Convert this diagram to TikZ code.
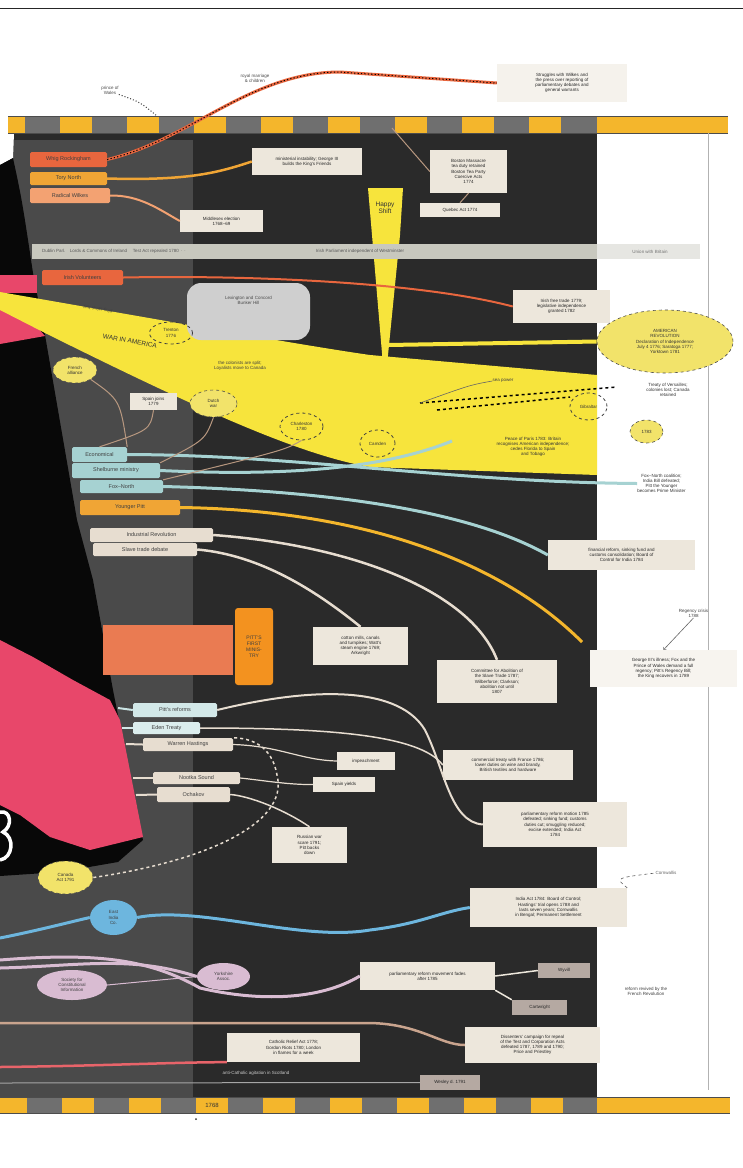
\documentclass[tikz,border=0pt]{standalone}
\usepackage{fontspec}
\setsansfont{Liberation Sans}
\usetikzlibrary{shapes.geometric}
\definecolor{darkbg}{HTML}{2A2A2A}
\definecolor{leftbg}{HTML}{4A4A4A}
\definecolor{nblack}{HTML}{080808}
\definecolor{pinkc}{HTML}{E8476A}
\definecolor{wedge}{HTML}{F7E43C}
\definecolor{bandyel}{HTML}{F4B62C}
\definecolor{bandgray}{HTML}{6F6F6F}
\definecolor{tagred}{HTML}{E8663E}
\definecolor{tagyel}{HTML}{F0A535}
\definecolor{tagorl}{HTML}{F3A272}
\definecolor{boxc}{HTML}{EDE7DC}
\definecolor{grayband}{HTML}{C8C8BE}
\definecolor{lblue}{HTML}{A6D2D2}
\definecolor{blueline}{HTML}{6DB6DE}
\definecolor{lav}{HTML}{D9BCD2}
\definecolor{salmon}{HTML}{EA7B52}
\definecolor{orbox}{HTML}{F3921F}
\definecolor{tanl}{HTML}{C9A48E}
\definecolor{redline}{HTML}{E8646A}
\definecolor{beige}{HTML}{E7DDD0}
\definecolor{brownl}{HTML}{B89880}
\definecolor{ellyel}{HTML}{F2E36A}
\definecolor{gbox}{HTML}{B5A9A2}
\definecolor{rbox}{HTML}{CFCFCF}
\begin{document}
\begin{tikzpicture}[x=1pt,y=-1pt,
  font=\sffamily\fontsize{4.5}{5.2}\selectfont,
  box/.style={fill=boxc, inner sep=1.5pt, align=center, text=black!85},
  tagbox/.style={inner sep=1pt, align=center, text=black!75, rounded corners=1.5pt, font=\sffamily\fontsize{5.5}{6}\selectfont},
  plain/.style={inner sep=0pt, align=center, text=black!70},
  dcirc/.style={ellipse, draw=black!75, dashed, line width=0.8pt, inner sep=0pt, align=center, text=black!80},
  yell/.style={ellipse, fill=ellyel, draw=black!70, dashed, line width=0.6pt, inner sep=0pt, align=center, text=black!80},
  leader/.style={brownl, line width=1pt}
]
\useasboundingbox (0,0) rectangle (743,1168);
\fill[white] (0,0) rectangle (743,1168);
\draw[line width=0.8pt, black!85] (0,8) -- (743,8);

% ---------- backgrounds
\fill[darkbg] (0,133) rectangle (597,1097);
\fill[leftbg] (0,140) rectangle (193,1097);
\fill[white] (0,133) -- (14,133) -- (13,158) -- (0,165) -- cycle;
\fill[nblack] (0,165) -- (13,158) .. controls (22,200) .. (33,273) -- (45,335) -- (77,520) -- (93,580) -- (113,690) -- (143,840) -- (118,862) -- (60,872) -- (0,876) -- cycle;
\fill[pinkc] (0,640) -- (33,657) -- (73,680) -- (110,700) -- (120,720) -- (143,837) -- (90,850) -- (50,837) -- (20,815) -- (0,805) -- cycle;
% partial white glyph at the left edge
\draw[white, line width=3.5pt] (0,812) .. controls (11,810) and (13,826) .. (3,832) .. controls (15,837) and (13,858) .. (0,860);
\fill[pinkc] (0,275) rectangle (37,293);
\fill[pinkc] (0,305) -- (22,310) -- (45,336) -- (0,344) -- cycle;

% ---------- yellow wedge and spike
\fill[wedge] (0,292) .. controls (150,318) and (300,345) .. (370,355) -- (597,375) -- (597,475) -- (370,467) .. controls (300,455) and (200,410) .. (45,333) -- (0,310) -- cycle;
\fill[wedge] (368,188) -- (403,188) -- (400,235) -- (387,365) -- (383,365) -- (372,235) -- cycle;
\node[plain, text=black!80, font=\sffamily\fontsize{6.5}{7}\selectfont] (spk) at (385,208) {Happy\\Shift};

% ---------- bands
\fill[bandgray] (8,116) rectangle (597,133);
\fill[bandyel] (8,116) rectangle (25,133);
\foreach \x in {60,127,...,529} { \fill[bandyel] (\x,116) rectangle (\x+32,133); }
\fill[bandyel] (597,116) rectangle (728,133);
\draw[black!70, line width=0.6pt] (8,116) -- (728,116) (8,133) -- (728,133);
\fill[bandgray] (0,1097) rectangle (597,1113);
\fill[bandyel] (0,1097) rectangle (27,1113);
\foreach \x in {62,129,...,531} { \fill[bandyel] (\x,1097) rectangle (\x+32,1113); }
\fill[bandyel] (597,1097) rectangle (730,1113);
\draw[black!70, line width=0.6pt] (0,1097) -- (730,1097) (0,1113) -- (730,1113);
\node[plain, text=black!80, font=\sffamily\fontsize{6}{6}\selectfont] (yr) at (212,1105) {1768};
\fill[black!80] (196,1119) circle (1pt);

% right panel rule
\draw[gray!60, line width=1pt] (708,133) -- (708,1090);

% ---------- grey band
\fill[grayband] (32,244) rectangle (597,259);
\fill[grayband!45] (597,244) rectangle (700,259);
\node[plain, anchor=west, text=black!65] (gb1) at (42,251.5) {Dublin Parl.\quad Lords \& Commons of Ireland \quad Test Act repealed 1780 $\cdot$ $\cdot$};
\node[plain, text=black!65] (gb2) at (360,251.5) {Irish Parliament independent of Westminster};
\node[plain, text=black!55] (gb3) at (650,251.5) {Union with Britain};

% ---------- top region
\node[plain] (tl1) at (110,90) {prince of\\Wales};
\node[plain] (tl2) at (255,78) {royal marriage\\\& children};
\node[box, fill=boxc!55, minimum width=130, minimum height=38] (tb) at (562,83) {Struggles with Wilkes and\\the press over reporting of\\parliamentary debates and\\general warrants};
\coordinate (bandpt) at (157,116);
\draw[black!75, dotted, line width=1pt] (tl1.south east) .. controls (140,102) .. (bandpt);

\node[tagbox, fill=tagred, minimum width=77, minimum height=15] (t1) at (68.5,159.5) {Whig Rockingham};
\node[tagbox, fill=tagyel, minimum width=77, minimum height=13] (t2) at (68.5,178.5) {Tory North};
\node[tagbox, fill=tagorl, minimum width=80, minimum height=15] (t3) at (70,195.5) {Radical Wilkes};

\draw[tagred, line width=3pt] (t1.east) .. controls (190,140) and (250,72) .. (340,72) -- (tb.west);
\draw[black, dash pattern=on 1.2pt off 2.2pt, line width=1pt] (t1.east) .. controls (190,140) and (250,72) .. (340,72) -- (tb.west);

\node[box, minimum width=110, minimum height=27] (b1) at (307,161.5) {ministerial instability; George III\\builds the King's Friends};
\node[box, minimum width=83, minimum height=22] (b2) at (221.5,221) {Middlesex election\\1768--69};
\draw[tagyel, line width=2.5pt] (t2.east) .. controls (190,181) and (220,172) .. (b1.west);
\draw[tagorl, line width=2pt] (t3.east) .. controls (140,195) and (160,210) .. (b2.west);

\node[box, minimum width=77, minimum height=43] (b3) at (468.5,171.5) {Boston Massacre\\tea duty retained\\Boston Tea Party\\Coercive Acts\\1774};
\node[box, minimum width=80, minimum height=14] (b4) at (460,210) {Quebec Act 1774};
\coordinate (c1) at (392,128);
\draw[leader] (c1) -- (b3.west);
\draw[leader] (b3.south) -- (b4.north);

% ---------- orange tag to box
\node[tagbox, fill=tagred, minimum width=81, minimum height=15] (t4) at (82.5,277.5) {Irish Volunteers};
\node[box, minimum width=97, minimum height=33] (b5) at (561.5,306.5) {Irish free trade 1779;\\legislative independence\\granted 1782};
\draw[tagred, line width=2pt] (t4.east) .. controls (250,275) and (420,282) .. (b5.west);

% ---------- big ellipse and spike line
\node[yell, minimum width=136, minimum height=63] (e1) at (665,341.5) {AMERICAN\\REVOLUTION\\Declaration of Independence\\July 4 1776; Saratoga 1777;\\Yorktown 1781};
\draw[wedge, line width=4pt] (388,345) -- (e1.west);

% ---------- wedge contents
\node[box, fill=rbox, rounded corners=14pt, minimum width=123, minimum height=57, text=black!70, text depth=22pt] (gr) at (248.5,311.5) {Lexington and Concord\\Bunker Hill};
\node[plain, text=black!75, rotate=-9] (wt1) at (98,309) {first shots fired};
\node[plain, text=black!80, rotate=-10, font=\sffamily\fontsize{6.5}{7}\selectfont] (wt2) at (130,341) {WAR IN AMERICA};
\node[plain, text=black!75] (wt3) at (240,366) {the colonists are split;\\Loyalists move to Canada};
\node[dcirc, minimum width=43, minimum height=22] (c2) at (171,333) {Trenton\\1776};
\node[yell, minimum width=44, minimum height=26] (ye1) at (75,370) {French\\alliance};
\node[box, minimum width=47, minimum height=17] (wbx) at (153.5,401.5) {Spain joins\\1779};
\node[yell, minimum width=47, minimum height=27] (ye2) at (213.5,403.5) {Dutch\\war};
\node[dcirc, minimum width=43, minimum height=27] (c3) at (301.5,426.5) {Charleston\\1780};
\node[dcirc, minimum width=35, minimum height=27] (c4) at (377.5,443.5) {Camden};
\node[plain, text=black!75] (lbl) at (503,381) {sea power};
\node[dcirc, minimum width=37, minimum height=27] (c5) at (588.5,406.5) {Gibraltar};
\node[plain, text=black!80] (wtx) at (533,447) {Peace of Paris 1783: Britain\\recognises American independence;\\cedes Florida to Spain\\and Tobago};
\coordinate (dl1a) at (420,403); \coordinate (dl1b) at (617,387);
\coordinate (dl2a) at (437,410); \coordinate (dl2b) at (570,397);
\draw[black, dashed, line width=1.5pt] (dl1a) -- (dl1b);
\draw[black, dashed, line width=1.5pt] (dl2a) -- (dl2b);
\draw[black!60, line width=0.6pt] (lbl.west) .. controls (470,385) .. (dl1a);

% right panel texts
\node[plain, text=black!80] (rt1) at (668,390) {Treaty of Versailles;\\colonies lost; Canada\\retained};
\node[yell, minimum width=33, minimum height=23] (e2) at (646.5,431.5) {1783};
\node[plain, text=black!80] (rt2) at (661.5,483.5) {Fox--North coalition;\\India Bill defeated;\\Pitt the Younger\\becomes Prime Minister};

% ---------- light blue tags
\node[tagbox, fill=lblue, minimum width=55, minimum height=15] (L1) at (99.5,454.5) {Economical};
\node[tagbox, fill=lblue, minimum width=88, minimum height=15] (L2) at (116,470.5) {Shelburne ministry};
\node[tagbox, fill=lblue, minimum width=83, minimum height=13] (L3) at (121.5,486.5) {Fox--North};
\node[tagbox, fill=tagyel, minimum width=100, minimum height=15] (O1) at (130,507.5) {Younger Pitt};
\coordinate (cw) at (452,441);
\coordinate (co) at (582,642);
\node[box, minimum width=147, minimum height=30] (b6) at (621.5,555) {financial reform, sinking fund and\\customs consolidation; Board of\\Control for India 1784};
\draw[lblue, line width=3pt] (L1.east) .. controls (300,455) and (450,482) .. (rt2.west);
\draw[lblue, line width=3pt] (L2.east) .. controls (280,476) and (380,470) .. (cw);
\draw[lblue, line width=3pt] (L3.east) .. controls (300,490) and (460,505) .. (b6.west);
\draw[bandyel, line width=3pt] (O1.east) .. controls (360,510) and (500,560) .. (co);
\draw[leader] (ye1.south east) .. controls (120,400) .. (L1.north east);
\draw[leader] (wbx.south) .. controls (150,430) .. (L1.north);
\draw[leader] (ye2.south) .. controls (205,440) .. (L2.north east);
\draw[leader] (c3.south) .. controls (285,450) .. (L3.north east);

% ---------- beige tags
\node[tagbox, fill=beige, minimum width=123, minimum height=14] (W1) at (151.5,535) {Industrial Revolution};
\node[tagbox, fill=beige, minimum width=104, minimum height=13] (W2) at (145,549.5) {Slave trade debate};
\node[box, minimum width=95, minimum height=38] (b7) at (360.5,646) {cotton mills, canals\\and turnpikes; Watt's\\steam engine 1769;\\Arkwright};
\node[box, minimum width=120, minimum height=43] (b8) at (497,681.5) {Committee for Abolition of\\the Slave Trade 1787;\\Wilberforce; Clarkson;\\abolition not until\\1807};
\draw[beige, line width=2.5pt] (W1.east) .. controls (350,545) and (470,590) .. (b8.north);
\draw[beige, line width=2.5pt] (W2.east) .. controls (260,555) and (315,590) .. (b7.north);

\node[plain, text=black!75] (rlabel) at (693.5,613.5) {Regency crisis\\1788};
\node[box, fill=boxc!45, minimum width=147, minimum height=37] (rb) at (663.5,668.5) {George III's illness; Fox and the\\Prince of Wales demand a full\\regency; Pitt's Regency Bill;\\the King recovers in 1789};
\draw[black!60, ->, line width=0.6pt] (rlabel.south) -- (rb.north);

% ---------- salmon / orange block
\fill[salmon] (103,625) rectangle (233,675);
\node[tagbox, fill=orbox, rounded corners=3pt, minimum width=38, minimum height=77, font=\sffamily\fontsize{5}{6}\selectfont] (ob) at (254,646.5) {PITT'S\\FIRST\\MINIS-\\TRY};

% ---------- lower tags
\node[tagbox, fill=lblue!50!white, minimum width=84, minimum height=14] (P1) at (175,710) {Pitt's reforms};
\node[tagbox, fill=lblue!40!white, minimum width=67, minimum height=12] (P2) at (166.5,728) {Eden Treaty};
\node[tagbox, fill=beige, minimum width=90, minimum height=13] (P3) at (188,744.5) {Warren Hastings};
\node[tagbox, fill=beige, minimum width=87, minimum height=12] (P4) at (196.5,778) {Nootka Sound};
\node[tagbox, fill=beige, minimum width=73, minimum height=15] (P5) at (193.5,794.5) {Ochakov};
\coordinate (s1) at (118,708); \coordinate (s2) at (122,728); \coordinate (s3) at (126,744);
\coordinate (s4) at (133,778); \coordinate (s5) at (136,795);
\draw[lblue!60!white, line width=2pt] (s1) -- (P1.west);
\draw[lblue!50!white, line width=2pt] (s2) -- (P2.west);
\draw[beige, line width=2pt] (s3) -- (P3.west);
\draw[beige, line width=2pt] (s4) -- (P4.west);
\draw[beige, line width=2pt] (s5) -- (P5.west);

\node[box, minimum width=130, minimum height=30] (b9) at (508,765) {commercial treaty with France 1786;\\lower duties on wine and brandy,\\British textiles and hardware};
\node[box, minimum width=144, minimum height=45] (b10) at (555,824.5) {parliamentary reform motion 1785\\defeated; sinking fund; customs\\duties cut; smuggling reduced;\\excise extended; India Act\\1784};
\node[box, minimum width=58, minimum height=18] (b11) at (366,761) {impeachment};
\node[box, minimum width=62, minimum height=15] (b12) at (344,784.5) {Spain yields};
\node[box, minimum width=75, minimum height=36] (b13) at (309.5,845) {Russian war\\scare 1791;\\Pitt backs\\down};
\draw[beige, line width=2pt] (P1.east) .. controls (320,685) and (400,688) .. (425,730) .. controls (445,770) and (450,822) .. (b10.west);
\draw[beige, line width=1.5pt] (P2.east) .. controls (330,728) and (420,735) .. (b9.west);
\draw[beige, line width=1.2pt] (P3.east) .. controls (280,746) and (300,760) .. (b11.west);
\draw[beige, line width=1.2pt] (P4.east) .. controls (260,780) and (290,785) .. (b12.west);
\draw[beige, line width=1.5pt] (P5.east) .. controls (250,796) and (285,810) .. (b13.north);

\node[yell, minimum width=55, minimum height=33] (e3) at (65.5,877.5) {Canada\\Act 1791};
\draw[beige, dashed, line width=1.5pt] (e3.east) .. controls (200,862) and (290,825) .. (277,775) .. controls (272,745) and (250,738) .. (P3.north east);

% ---------- blue line
\node[ellipse, fill=blueline, inner sep=0pt, minimum width=47, minimum height=35, align=center, text=black!75] (e4) at (113.5,917.5) {East\\India\\Co.};
\coordinate (bl0) at (0,938);
\node[box, minimum width=157, minimum height=39] (b14) at (548.5,907.5) {India Act 1784: Board of Control;\\Hastings' trial opens 1788 and\\lasts seven years; Cornwallis\\in Bengal; Permanent Settlement};
\draw[blueline, line width=3pt] (bl0) .. controls (40,930) and (70,922) .. (e4.west);
\draw[blueline, line width=3pt] (e4.east) .. controls (200,905) and (300,942) .. (370,930) .. controls (420,924) and (440,912) .. (b14.west);
\node[plain, text=black!60] (rtx) at (666,873) {Cornwallis};
\draw[black!65, dashed, line width=0.6pt] (b14.north east) .. controls (615,878) .. (rtx.west);

% ---------- lavender lines
\node[ellipse, fill=lav, inner sep=0pt, minimum width=70, minimum height=30, align=center, text=black!75] (e5) at (72,985) {Society for\\Constitutional\\Information};
\node[ellipse, fill=lav, inner sep=0pt, minimum width=53, minimum height=27, align=center, text=black!75] (e6) at (223.5,976.5) {Yorkshire\\Assoc.};
\node[box, minimum width=135, minimum height=28] (b15) at (427.5,976) {parliamentary reform movement fades\\after 1785};
\node[box, fill=gbox, minimum width=52, minimum height=15] (b16) at (564,970.5) {Wyvill};
\node[box, fill=gbox, minimum width=55, minimum height=15] (b17) at (539.5,1007.5) {Cartwright};
\node[plain, text=black!75] (rt3) at (646,991) {reform revived by the\\French Revolution};
\coordinate (la0) at (0,960);
\coordinate (lb0) at (0,968);
\draw[lav, line width=3pt] (la0) .. controls (100,952) and (150,960) .. (200,988) .. controls (260,1002) and (320,1000) .. (b15.west);
\draw[lav, line width=3pt] (lb0) .. controls (80,966) and (130,955) .. (e6.west);
\draw[lav, line width=1pt] (e5.east) -- (e6.west);
\draw[boxc, line width=1.5pt] (b15.east) -- (b16.west);
\draw[boxc, line width=1.5pt] (b15.south east) -- (b17.north west);

% ---------- tan, red and thin lines
\coordinate (tl0) at (0,1023);
\coordinate (rl0) at (0,1067);
\coordinate (th0) at (0,1083);
\node[box, minimum width=135, minimum height=36] (b18) at (532.5,1045) {Dissenters' campaign for repeal\\of the Test and Corporation Acts\\defeated 1787, 1789 and 1790;\\Price and Priestley};
\node[box, minimum width=133, minimum height=29] (b19) at (293.5,1047.5) {Catholic Relief Act 1778;\\Gordon Riots 1780; London\\in flames for a week};
\node[plain, text=black!20] (bt) at (256,1073) {anti-Catholic agitation in Scotland};
\node[box, fill=gbox, minimum width=60, minimum height=15] (b20) at (450,1082.5) {Wesley d. 1791};
\draw[tanl, line width=2.5pt] (tl0) -- (370,1023) .. controls (420,1024) and (440,1045) .. (b18.west);
\draw[redline, line width=2.5pt] (rl0) .. controls (100,1066) and (180,1062) .. (b19.south west);
\draw[gray!70, line width=1pt] (th0) -- (b20.west);
\end{tikzpicture}
\end{document}
